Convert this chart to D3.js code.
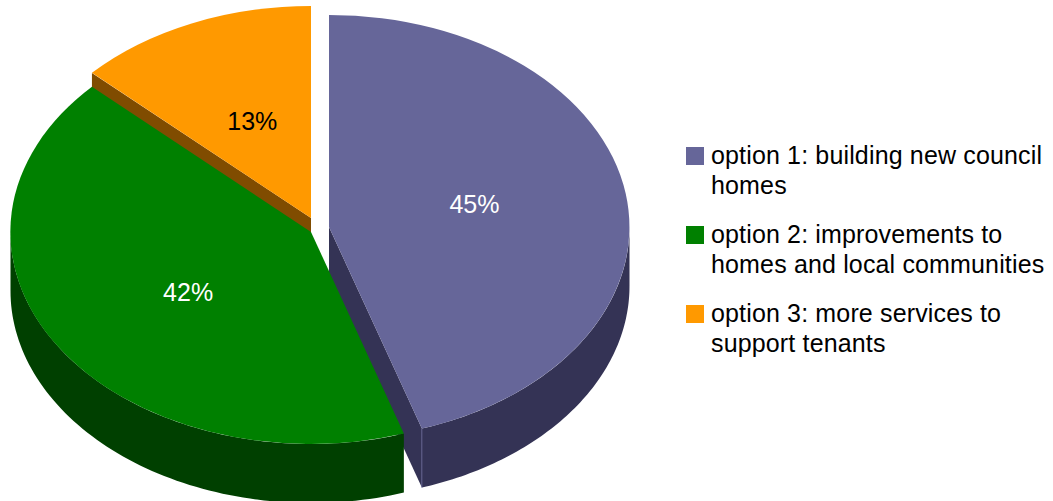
<!DOCTYPE html>
<html>
<head>
<meta charset="utf-8">
<script src="https://cdn.jsdelivr.net/npm/d3@7/dist/d3.min.js"></script>
<style>
  html, body { margin: 0; padding: 0; background: #fff; }
  svg { display: block; }
  text { font-family: "Liberation Sans", Arial, sans-serif; }
</style>
</head>
<body>
<svg id="chart" width="1053" height="501"></svg>
<script>
// Shares per option, in percent
const optionNames = ["option 1", "option 2", "option 3"];
const optionShares = [45, 42, 13];
const legendLines = [
  ["option 1: building new council", "homes"],
  ["option 2: improvements to", "homes and local communities"],
  ["option 3: more services to", "support tenants"]
];
const topColors = ["#666699", "#008000", "#ff9900"];
const wallColors = ["#343355", "#004000", "#804c00"];
const labelColors = ["#ffffff", "#ffffff", "#000000"];

// Tilted disc geometry: each slice is pulled away from the others by its own hub
const rx = 300.5, ry = 212, depth = 59;
const hubs = [[329, 227], [311, 232], [311, 218]];
const labelNudge = [[-3, -5], [4, 4], [1, 1]];

const svg = d3.select("#chart");

const slices = d3.pie().sort(null)(optionShares);
const unitArc = d3.arc().innerRadius(0).outerRadius(1);
const rimLine = d3.line();

const onDisc = (hub, angle, drop = 0) =>
  [hub[0] + rx * Math.sin(angle), hub[1] - ry * Math.cos(angle) + drop];

// Cut face running from the hub out to the rim at the given angle
function cutFace(i, angle) {
  const h = hubs[i];
  const rim = onDisc(h, angle);
  svg.append("path")
    .attr("fill", wallColors[i])
    .attr("d", rimLine([h, rim, [rim[0], rim[1] + depth], [h[0], h[1] + depth]]) + "Z");
}

// Front-facing part of the outer rim between two angles
function rimWall(i, a0, a1) {
  const from = Math.max(a0, Math.PI / 2);
  const to = Math.min(a1, Math.PI * 1.5);
  if (to <= from) return;
  const angles = d3.range(0, 81).map(k => from + (to - from) * k / 80);
  const upper = angles.map(a => onDisc(hubs[i], a));
  const lower = angles.slice().reverse().map(a => onDisc(hubs[i], a, depth));
  svg.append("path")
    .attr("fill", wallColors[i])
    .attr("d", rimLine(upper.concat(lower)) + "Z");
}

function topFace(i) {
  svg.append("path")
    .attr("fill", topColors[i])
    .attr("transform", `translate(${hubs[i][0]},${hubs[i][1]}) scale(${rx},${ry})`)
    .attr("d", unitArc(slices[i]));
}

// Back to front: option 1, then option 3, with option 2 lying over both cut faces
cutFace(0, slices[0].endAngle);
rimWall(0, slices[0].startAngle, slices[0].endAngle);
topFace(0);

// Pale seam where the cut face meets the rim of option 1
const seamTop = onDisc(hubs[0], slices[0].endAngle);
svg.append("line")
  .attr("x1", seamTop[0]).attr("y1", seamTop[1])
  .attr("x2", seamTop[0]).attr("y2", seamTop[1] + depth)
  .attr("stroke", "#6a6a99").attr("stroke-width", 0.8);

cutFace(2, slices[2].startAngle);
topFace(2);

rimWall(1, slices[1].startAngle, slices[1].endAngle);
topFace(1);

// Percentage labels, halfway along each slice's middle radius
slices.forEach((s, i) => {
  const mid = (s.startAngle + s.endAngle) / 2;
  const [x, y] = onDisc(hubs[i], mid);
  svg.append("text")
    .attr("x", hubs[i][0] + (x - hubs[i][0]) * 0.5 + labelNudge[i][0])
    .attr("y", hubs[i][1] + (y - hubs[i][1]) * 0.5 + 8 + labelNudge[i][1])
    .attr("text-anchor", "middle")
    .attr("font-size", 25)
    .attr("fill", labelColors[i])
    .text(optionShares[i] + "%");
});

// Legend
const legendBaselines = [164, 243, 322];
const legendRow = svg.selectAll("g.legend").data(optionNames).join("g").attr("class", "legend");
legendRow.append("rect")
  .attr("x", 686).attr("y", (d, i) => legendBaselines[i] - 17)
  .attr("width", 18).attr("height", 18)
  .attr("fill", (d, i) => topColors[i]);
legendRow.each(function (d, i) {
  const row = d3.select(this);
  legendLines[i].forEach((line, j) => {
    row.append("text")
      .attr("x", 711).attr("y", legendBaselines[i] + j * 30)
      .attr("font-size", 25).attr("letter-spacing", 0.15).attr("fill", "#000")
      .text(line);
  });
});
</script>
</body>
</html>
